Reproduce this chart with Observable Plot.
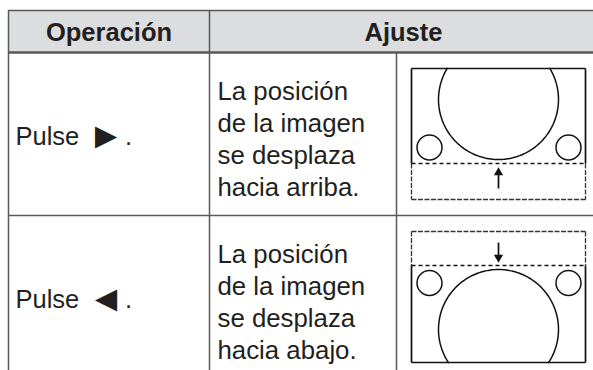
<!DOCTYPE html>
<html>
<head>
<meta charset="utf-8">
<script src="https://cdn.jsdelivr.net/npm/d3@7"></script>
<script src="https://cdn.jsdelivr.net/npm/@observablehq/plot@0.6"></script>
<style>
  html, body { margin: 0; padding: 0; background: #fff; }
</style>
</head>
<body>
<div id="chart"></div>
<script>
// ---- data ----
const headers = ["Operación", "Ajuste"];
const operations = ["Pulse ►.", "Pulse ◄."];
const descriptions = [
  "La posición\nde la imagen\nse desplaza\nhacia arriba.",
  "La posición\nde la imagen\nse desplaza\nhacia abajo."
];
const directions = ["up", "down"];

// ---- layout ----
const W = 593, H = 370;
const L = 8, T = 10, R = 597;
const headB = 52, rowH = 163;
const c1 = 209, c2 = 396;
const rowTop = i => headB + i * rowH;
const tableB = headB + rowH * operations.length;
const box = {x1: 411, x2: 585};
const font = "Arial, 'Liberation Sans', sans-serif";
const ink = "#231f20", lineCol = "#58595b";

const rows = operations.map((op, i) => {
  const t = rowTop(i);
  const up = directions[i] === "up";
  const [, word, glyph, tail] = op.match(/^(.*?)\s*([►◄])(.*)$/);
  const y1 = t + 16, y2 = t + 147;
  const split = up ? t + 111 : t + 50;          // dashed boundary
  const big = up ? {cx: 498, cy: t + 47, clip: y1} : {cx: 498, cy: t + 114, clip: y2};
  const smallY = up ? t + 95 : t + 67.5;
  return {i, t, op, word, glyph, tail, desc: descriptions[i], up, y1, y2, split, big, smallY};
});

// circle arcs clipped to the picture box
const arcs = rows.flatMap(r => {
  const rad = 60;
  const a0 = Math.asin((r.big.clip - r.big.cy) / rad);
  const [from, to] = r.up ? [a0, Math.PI - a0] : [Math.PI - a0, 2 * Math.PI + a0];
  return d3.range(0, 201).map(k => {
    const a = from + (to - from) * k / 200;
    return {row: r.i, x: r.big.cx + rad * Math.cos(a), y: r.big.cy + rad * Math.sin(a)};
  });
});

const smallCircles = rows.flatMap(r => [
  {x: 429, y: r.smallY}, {x: 568, y: r.smallY}
]);

// box edges: solid part (visible picture) and dashed part (off-screen area)
const solidEdges = [], outerDashed = [], frameEdges = [];
rows.forEach(r => {
  const [a, b] = r.up ? [r.y1, r.split] : [r.split, r.y2];   // visible part
  const [c, d] = r.up ? [r.split, r.y2] : [r.y1, r.split];   // off-screen part
  const visEdgeY = r.up ? r.y1 : r.y2;
  const offEdgeY = r.up ? r.y2 : r.y1;
  solidEdges.push({x1: box.x1, y1: visEdgeY, x2: box.x2, y2: visEdgeY});
  solidEdges.push({x1: box.x1, y1: a, x2: box.x1, y2: b});
  solidEdges.push({x1: box.x2, y1: a, x2: box.x2, y2: b});
  outerDashed.push({x1: box.x1, y1: offEdgeY, x2: box.x2, y2: offEdgeY});
  outerDashed.push({x1: box.x1, y1: c, x2: box.x1, y2: d});
  outerDashed.push({x1: box.x2, y1: c, x2: box.x2, y2: d});
  frameEdges.push({x1: box.x1, y1: r.split, x2: box.x2, y2: r.split});
});

const arrows = rows.map(r => r.up
  ? {x: 498, y1: r.t + 136, y2: r.t + 121, hy: r.t + 120, rot: 0}
  : {x: 498, y1: r.t + 27, y2: r.t + 41, hy: r.t + 42, rot: 180});

const gridH = [
  {x1: L, x2: R, y: T, w: 1.5},
  {x1: L, x2: R, y: headB, w: 2.5},
  ...rows.slice(1).map(r => ({x1: L, x2: R, y: r.t, w: 1.5}))
];
const gridV = [
  {x: L, y1: T, y2: tableB},
  {x: c1, y1: T, y2: tableB},
  {x: c2, y1: headB, y2: tableB}
];

const chart = Plot.plot({
  width: W, height: H,
  margin: 0,
  x: {domain: [0, W], range: [0, W], axis: null},
  y: {domain: [0, H], range: [0, H], axis: null},
  style: {fontFamily: font, background: "#fff"},
  marks: [
    Plot.rect([{}], {x1: L, x2: R, y1: T, y2: headB, fill: "#dcdddf"}),
    Plot.ruleY(gridH, {x1: "x1", x2: "x2", y: "y", stroke: lineCol, strokeWidth: "w"}),
    Plot.ruleX(gridV, {x: "x", y1: "y1", y2: "y2", stroke: lineCol, strokeWidth: 1.5}),
    Plot.text(headers, {
      x: (d, i) => i === 0 ? (L + c1) / 2 : (c1 + R) / 2,
      y: (T + headB) / 2 + 1,
      text: d => d, fontWeight: "bold", fontSize: 25.5, fill: ink,
      fontFamily: font
    }),
    // "Pulse ►." split into word / big glyph / period
    Plot.text(rows, {
      x: 15, y: r => r.t + 84, text: "word", textAnchor: "start",
      fontSize: 25.5, fill: ink, fontFamily: font
    }),
    Plot.text(rows, {
      x: 105.5, y: r => r.t + 84, text: "glyph", textAnchor: "middle",
      fontSize: 37, fill: ink, fontFamily: font
    }),
    Plot.text(rows, {
      x: 124.5, y: r => r.t + 84, text: "tail", textAnchor: "start",
      fontSize: 25.5, fill: ink, fontFamily: font
    }),
    Plot.text(rows, {
      x: 217, y: r => r.t + 25, text: "desc", textAnchor: "start",
      lineAnchor: "top", lineHeight: 1.24,
      fontSize: 25.8, fill: ink, fontFamily: font
    }),
    // picture
    Plot.line(arcs, {x: "x", y: "y", z: "row", stroke: "#111", strokeWidth: 1.5}),
    Plot.dot(smallCircles, {x: "x", y: "y", r: 12.5, stroke: "#111", strokeWidth: 1.5, fill: "none"}),
    Plot.link(solidEdges, {x1: "x1", y1: "y1", x2: "x2", y2: "y2", stroke: "#111", strokeWidth: 1.7}),
    Plot.link(outerDashed, {x1: "x1", y1: "y1", x2: "x2", y2: "y2", stroke: "#333", strokeWidth: 1.3, strokeDasharray: "5,1.5"}),
    Plot.link(frameEdges, {x1: "x1", y1: "y1", x2: "x2", y2: "y2", stroke: "#111", strokeWidth: 1.6, strokeDasharray: "4,3"}),
    Plot.link(arrows, {x1: "x", x2: "x", y1: "y1", y2: "y2", stroke: "#111", strokeWidth: 1.7}),
    Plot.dot(arrows, {x: "x", y: "hy", symbol: "triangle", r: 3.4, fill: "#111", rotate: "rot"})
  ]
});
document.getElementById("chart").append(chart);
</script>
</body>
</html>
